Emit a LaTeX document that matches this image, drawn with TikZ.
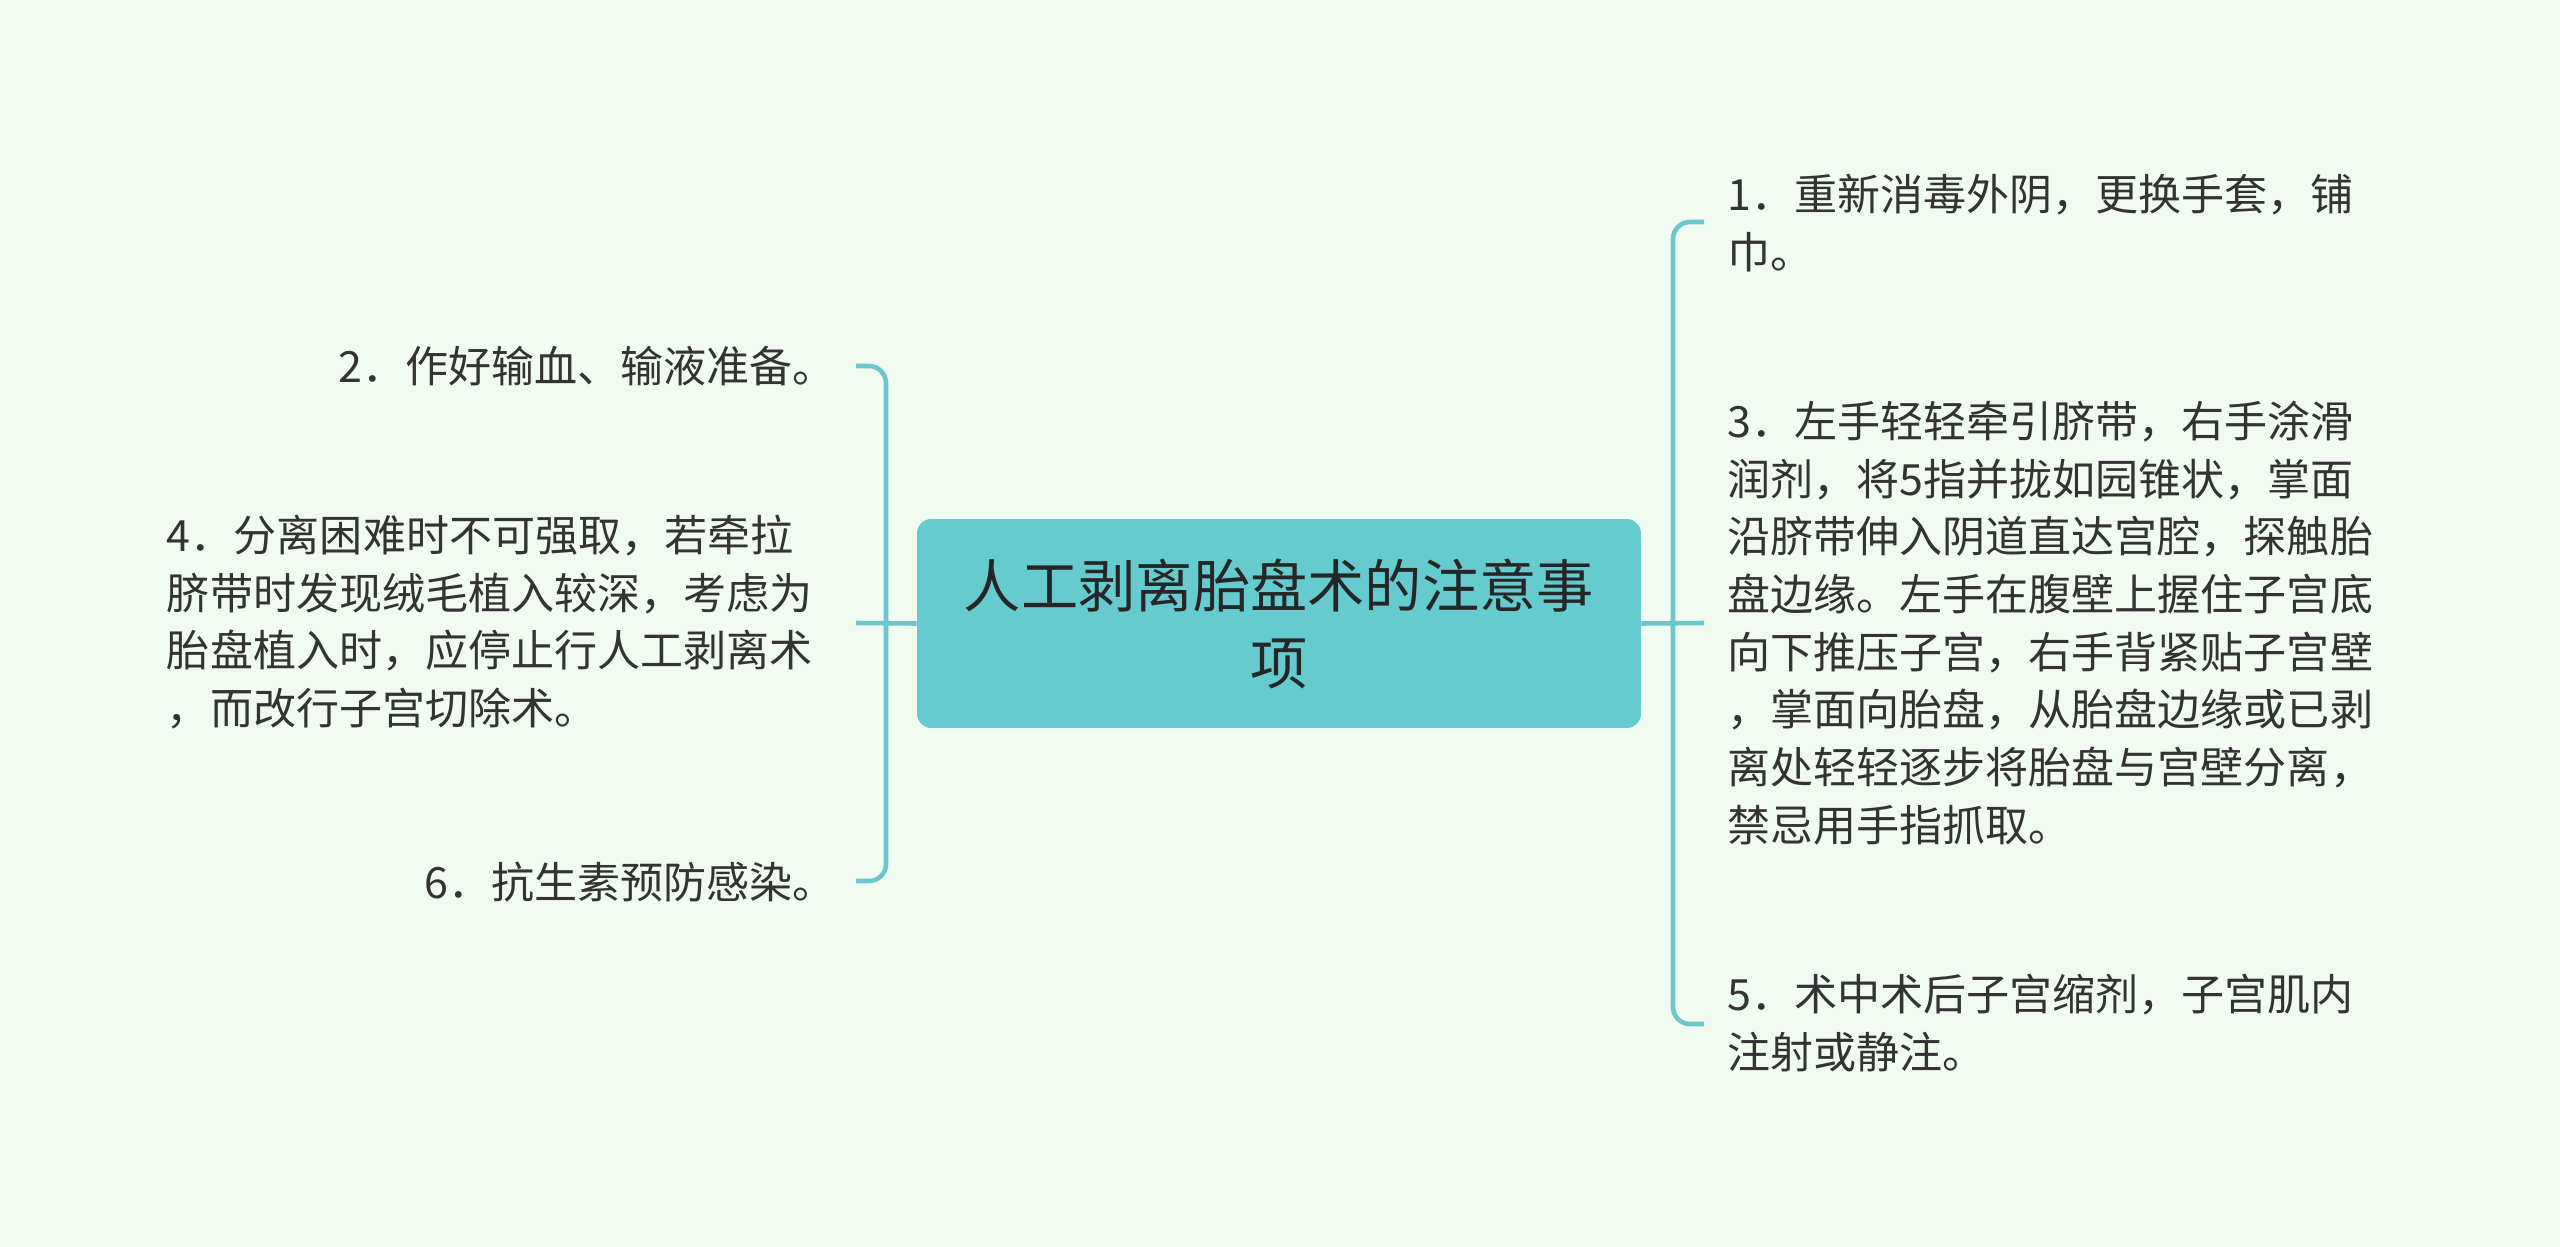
\documentclass[tikz,border=0pt]{standalone}
\usepackage{fontspec}
\newfontfamily\cjk{Noto Sans CJK SC}
\definecolor{bgcol}{HTML}{F1FAF0}
\definecolor{teal}{HTML}{65CBCE}
\definecolor{linecol}{HTML}{6CC6CC}
\definecolor{txtcol}{HTML}{333333}
\tikzset{
  topic/.style={fill=teal, rounded corners=0.28cm, minimum width=14.48cm, minimum height=4.18cm,
    align=center, text=black!85, font=\cjk\fontsize{32.6}{43.8}\selectfont},
  leaf/.style={inner sep=0pt, text=txtcol, font=\cjk\fontsize{24.5}{32.8}\selectfont},
  branch/.style={draw=linecol, line width=2.6pt, rounded corners=0.34cm}
}
\begin{document}
\begin{tikzpicture}[x=0.02cm, y=-0.02cm]
    \fill [bgcol] (0,0) rectangle (2560,1247);
    \useasboundingbox (0,0) rectangle (2560,1247);

    \node [topic] (title) at (1279,623.5) {人工剥离胎盘术的注意事\\项};

    % left side
    \node [leaf, anchor=east] (n2) at (836,366) {2．作好输血、输液准备。};
    \node [leaf, anchor=east, align=left] (n4) at (813,622) {4．分离困难时不可强取，若牵拉\\脐带时发现绒毛植入较深，考虑为\\胎盘植入时，应停止行人工剥离术\\，而改行子宫切除术。};
    \node [leaf, anchor=east] (n6) at (836,882) {6．抗生素预防感染。};
    \coordinate (l2) at (856,366);
    \coordinate (l4) at (856,623);
    \coordinate (l6) at (856,881);
    \coordinate (lm) at (886,623);
    \draw [branch] (l2) -| (lm) |- (l6);
    \draw [branch] (title.west) -- (l4);

    % right side
    \node [leaf, anchor=west, align=left] (n1) at (1727,223) {1．重新消毒外阴，更换手套，铺\\巾。};
    \node [leaf, anchor=west, align=left] (n3) at (1727,623) {3．左手轻轻牵引脐带，右手涂滑\\润剂，将5指并拢如园锥状，掌面\\沿脐带伸入阴道直达宫腔，探触胎\\盘边缘。左手在腹壁上握住子宫底\\向下推压子宫，右手背紧贴子宫壁\\，掌面向胎盘，从胎盘边缘或已剥\\离处轻轻逐步将胎盘与宫壁分离，\\禁忌用手指抓取。};
    \node [leaf, anchor=west, align=left] (n5) at (1727,1023) {5．术中术后子宫缩剂，子宫肌内\\注射或静注。};
    \coordinate (r1) at (1704,222);
    \coordinate (r3) at (1704,623);
    \coordinate (r5) at (1704,1024);
    \coordinate (rm) at (1673,623);
    \draw [branch] (r1) -| (rm) |- (r5);
    \draw [branch] (title.east) -- (r3);
\end{tikzpicture}
\end{document}
